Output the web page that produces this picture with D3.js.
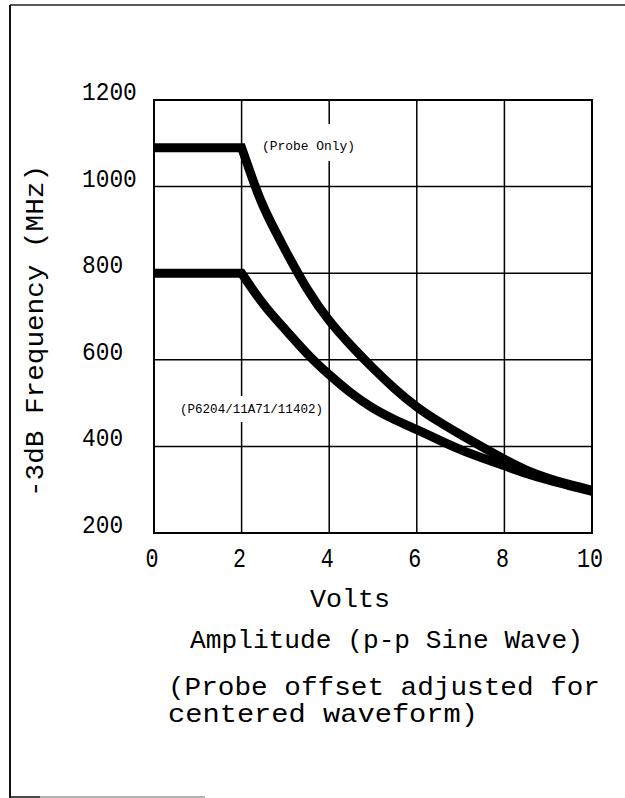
<!DOCTYPE html>
<html><head><meta charset="utf-8">
<script src="https://cdn.jsdelivr.net/npm/d3@7"></script>
<style>
html,body{margin:0;padding:0;background:#fff;}
svg{display:block;}
text{font-family:"Liberation Mono","DejaVu Sans Mono",monospace;fill:#000;}
</style></head><body>
<svg id="c" width="625" height="798"></svg>
<script>
// ---- data ----
const xTicks = [0, 2, 4, 6, 8, 10];
const yTicks = [200, 400, 600, 800, 1000, 1200];
const probeVolts = [0, 2, 2.31, 2.5, 3, 3.5, 4, 4.5, 5, 5.5, 6, 6.5, 7, 7.5, 8, 8.5, 9, 9.5, 10];
const probeMHz   = [1090, 1090, 1000, 950, 852, 760, 688, 632, 580, 532, 490, 457, 427, 398, 370, 344, 326, 311, 299];
const sysVolts = [0, 2, 2.5, 3, 3.5, 4, 4.5, 5, 5.5, 6, 6.5, 7, 7.5, 8, 8.5, 9, 9.5, 10];
const sysMHz   = [800, 800, 725, 670, 612, 565, 522, 487, 461, 439, 415, 392, 373, 355, 337, 322, 309, 296];
const seriesLabels = ["(Probe Only)", "(P6204/11A71/11402)"];
const xTitle = "Volts";
const yTitle = "-3dB Frequency (MHz)";
const noteLines = ["Amplitude (p-p Sine Wave)", "(Probe offset adjusted for", "centered waveform)"];

// ---- layout ----
const svg = d3.select("#c");
const L = 154, R = 592, T = 100, B = 533;
const x = d3.scaleLinear().domain([0, 10]).range([L, R]);
const y = d3.scaleLinear().domain([200, 1200]).range([B, T]);

// outer frame
svg.append("line").attr("x1", 10).attr("y1", 5).attr("x2", 625).attr("y2", 5).attr("stroke", "#222").attr("stroke-width", 1.5);
svg.append("line").attr("x1", 10).attr("y1", 5).attr("x2", 10).attr("y2", 798).attr("stroke", "#111").attr("stroke-width", 2);
svg.append("line").attr("x1", 10).attr("y1", 797).attr("x2", 40).attr("y2", 797).attr("stroke", "#111").attr("stroke-width", 1.5);
svg.append("line").attr("x1", 40).attr("y1", 797).attr("x2", 205).attr("y2", 797).attr("stroke", "#999").attr("stroke-width", 1.5);

// grid
const g = svg.append("g");
g.selectAll("line.v").data(xTicks.slice(1, -1)).enter().append("line")
  .attr("x1", d => x(d)).attr("x2", d => x(d)).attr("y1", T).attr("y2", B)
  .attr("stroke", "#000").attr("stroke-width", 1.5);
g.selectAll("line.h").data(yTicks.slice(1, -1)).enter().append("line")
  .attr("y1", d => y(d)).attr("y2", d => y(d)).attr("x1", L).attr("x2", R)
  .attr("stroke", "#000").attr("stroke-width", 1.5);
g.append("rect").attr("x", L).attr("y", T).attr("width", R - L).attr("height", B - T)
  .attr("fill", "none").attr("stroke", "#000").attr("stroke-width", 2);

// white label backgrounds
svg.append("rect").attr("x", 258).attr("y", 124).attr("width", 102).attr("height", 37).attr("fill", "#fff");
svg.append("rect").attr("x", 176).attr("y", 396).attr("width", 150).attr("height", 26).attr("fill", "#fff");

// curves: flat part straight, roll-off part smooth, joined with a sharp corner
const flatLine = d3.line().x(d => x(d[0])).y(d => y(d[1]));
const smoothLine = d3.line().x(d => x(d[0])).y(d => y(d[1])).curve(d3.curveBasis);
function curvePath(vs, ms) {
  const pts = d3.zip(vs, ms);
  const k = vs.indexOf(2);
  return flatLine(pts.slice(0, k + 1)) + smoothLine(pts.slice(k)).replace(/^M[^LC]*/, "");
}
[[probeVolts, probeMHz], [sysVolts, sysMHz]].forEach(([vs, ms]) => {
  svg.append("path").attr("d", curvePath(vs, ms)).attr("fill", "none").attr("stroke", "#000")
    .attr("stroke-width", 9).attr("stroke-linejoin", "miter").attr("stroke-miterlimit", 3)
    .attr("stroke-linecap", "butt");
});

// series labels
svg.append("text").attr("x", 262).attr("y", 150).attr("font-size", 13.5)
  .attr("textLength", 93).attr("lengthAdjust", "spacingAndGlyphs").text(seriesLabels[0]);
svg.append("text").attr("x", 180).attr("y", 413).attr("font-size", 13)
  .attr("textLength", 143).attr("lengthAdjust", "spacingAndGlyphs").text(seriesLabels[1]);

// y tick labels
svg.selectAll("text.yt").data(yTicks).enter().append("text")
  .attr("x", 82).attr("y", d => y(d)).attr("font-size", 25)
  .attr("textLength", d => String(d).length * 13.7).attr("lengthAdjust", "spacingAndGlyphs")
  .text(d => d);

// x tick labels
svg.selectAll("text.xt").data(xTicks).enter().append("text")
  .attr("x", d => x(d) - 2).attr("y", 567).attr("font-size", 27).attr("text-anchor", "middle")
  .attr("textLength", d => String(d).length * 13).attr("lengthAdjust", "spacingAndGlyphs")
  .text(d => d);

// axis titles
svg.append("text").attr("x", 350).attr("y", 607).attr("font-size", 25).attr("text-anchor", "middle")
  .attr("textLength", 80).attr("lengthAdjust", "spacingAndGlyphs").text(xTitle);
svg.append("text").attr("transform", "translate(43,331) rotate(-90)").attr("font-size", 25)
  .attr("text-anchor", "middle").attr("textLength", 332).attr("lengthAdjust", "spacingAndGlyphs").text(yTitle);

// notes
svg.append("text").attr("x", 190).attr("y", 648).attr("font-size", 25)
  .attr("textLength", 393).attr("lengthAdjust", "spacingAndGlyphs").text(noteLines[0]);
svg.append("text").attr("x", 168).attr("y", 695).attr("font-size", 25)
  .attr("textLength", 432).attr("lengthAdjust", "spacingAndGlyphs").text(noteLines[1]);
svg.append("text").attr("x", 168).attr("y", 722).attr("font-size", 25)
  .attr("textLength", 310).attr("lengthAdjust", "spacingAndGlyphs").text(noteLines[2]);
</script>
</body></html>
